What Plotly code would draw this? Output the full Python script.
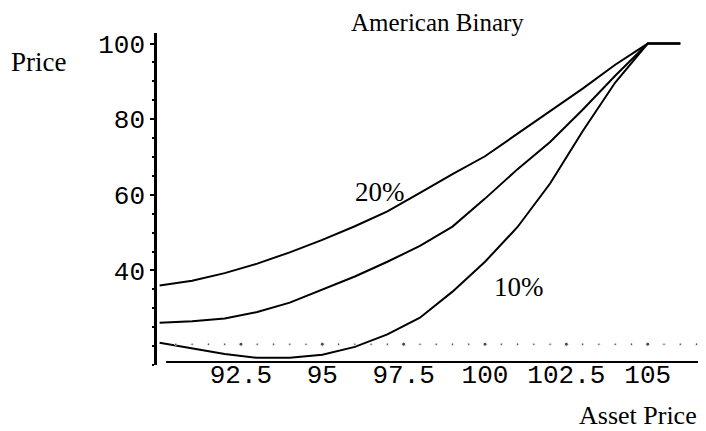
import plotly.graph_objects as go

# Asset price grid
asset = [90, 91, 92, 93, 94, 95, 96, 97, 98, 99, 100, 101, 102, 103, 104, 105, 106]
# American binary prices for three volatilities
vol20 = [36.0, 37.3, 39.3, 41.8, 44.8, 48.1, 51.7, 55.6, 60.5, 65.5, 70.2, 76.2, 82.0, 88.1, 94.4, 100, 100]
vol15 = [26.2, 26.6, 27.3, 29.0, 31.5, 34.9, 38.4, 42.3, 46.5, 51.6, 59.0, 66.8, 74.0, 82.5, 91.5, 100, 100]
vol10 = [20.9, 19.4, 17.9, 16.9, 16.9, 17.7, 19.8, 23.1, 27.5, 34.4, 42.3, 51.5, 63.0, 76.8, 89.7, 100, 100]

x_ticks = [92.5, 95, 97.5, 100, 102.5, 105]
x_tick_text = ["92.5", "95", "97.5", "100", "102.5", "105"]
y_ticks = [40, 60, 80, 100]
y_tick_text = ["40", "60", "80", "100"]
minor_x = [90 + 0.5 * i for i in range(1, 34)]

fig = go.Figure()
for ys in (vol20, vol15, vol10):
    fig.add_trace(go.Scatter(x=asset, y=ys, mode="lines",
                             line=dict(color="black", width=2), showlegend=False,
                             hoverinfo="skip"))

# dotted tick row at level 20
fig.add_trace(go.Scatter(x=minor_x, y=[20.5] * len(minor_x), mode="markers",
                         marker=dict(color="black",
                                     size=[4 if (v % 2.5 == 0) else 2.5 for v in minor_x]),
                         showlegend=False, hoverinfo="skip"))

# bottom solid axis line
fig.add_shape(type="line", x0=90.2, x1=106.76, y0=15.8, y1=15.8,
              line=dict(color="black", width=2))

mono = "Liberation Mono, Courier New, monospace"
serif = "Liberation Serif, Times New Roman, serif"

fig.update_layout(
    width=698, height=423,
    margin=dict(l=149, r=1, t=25, b=66),
    paper_bgcolor="white", plot_bgcolor="white",
    xaxis=dict(range=[89.92, 106.76], showgrid=False, zeroline=False, showline=False,
               tickvals=x_ticks, ticktext=x_tick_text, ticks="",
               ticklabelstandoff=-9,
               tickfont=dict(family=mono, size=26, color="black")),
    yaxis=dict(range=[15, 102.8], showgrid=False, zeroline=False,
               showline=True, linecolor="black", linewidth=2.5,
               tickvals=y_ticks, ticktext=y_tick_text, ticks="outside",
               ticklen=4, tickwidth=1.5, tickcolor="black",
               tickfont=dict(family=mono, size=26, color="black"),
               minor=dict(dtick=5, ticks="outside", ticklen=2, tickcolor="black")),
    annotations=[
        dict(text="American Binary", xref="paper", yref="paper", x=0.511, y=1.0316,
             xanchor="center", yanchor="middle",
             showarrow=False, font=dict(family=serif, size=25, color="black")),
        dict(text="Price", xref="paper", yref="paper", x=-0.217, y=0.913,
             xanchor="center", yanchor="middle",
             showarrow=False, font=dict(family=serif, size=27, color="black")),
        dict(text="Asset Price", xref="paper", yref="paper", x=0.878, y=-0.152,
             xanchor="center", yanchor="middle",
             showarrow=False, font=dict(family=serif, size=26, color="black")),
        dict(text="20%", x=96.77, y=60.7, showarrow=False,
             xanchor="center", yanchor="middle",
             font=dict(family=serif, size=27, color="black")),
        dict(text="10%", x=101.03, y=35.6, showarrow=False,
             xanchor="center", yanchor="middle",
             font=dict(family=serif, size=27, color="black")),
    ],
)

fig.write_html("out.html")
